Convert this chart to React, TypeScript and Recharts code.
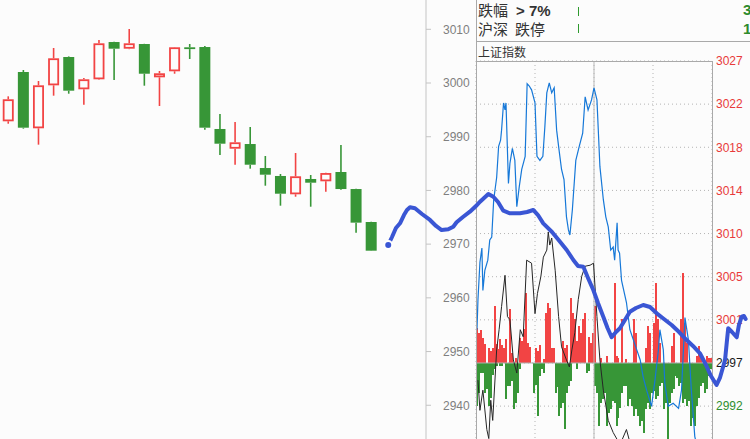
import React from 'react';
import {
  ComposedChart,
  LineChart,
  Bar,
  Line,
  XAxis,
  YAxis,
  CartesianGrid,
  ReferenceLine,
} from 'recharts';

// ---- daily K-line of 上证指数 ----
const sessionOpen = [2992.87, 3002.05, 2991.57, 2999.57, 3004.84, 2998.83, 3000.69, 3007.63, 3006.39, 3007.26, 3001.06, 3002.18, 3006.65, 3006.7, 2991.44, 2987.77, 2988.64, 2984.17, 2982.69, 2979.28, 2982.13, 2981.7, 2983.43, 2980.26, 2974.12];
const sessionClose = [2996.97, 2991.68, 2999.57, 3004.6, 2998.57, 3000.69, 3007.39, 3006.39, 3007.39, 3001.73, 3001.81, 3006.65, 3006.57, 2991.68, 2988.7, 2988.96, 2984.79, 2982.93, 2979.39, 2982.63, 2981.44, 2983.24, 2980.26, 2974.0, 2968.78];
const sessionHigh = [2997.52, 3002.42, 3000.37, 3006.52, 3004.95, 3000.93, 3008.0, 3007.7, 3010.06, 3007.3, 3002.24, 3006.7, 3007.26, 3006.89, 2994.23, 2992.74, 2991.81, 2986.41, 2983.06, 2986.97, 2982.87, 2983.3, 2988.46, 2980.3, 2974.15];
const sessionLow = [2992.42, 2991.5, 2988.52, 2997.64, 2998.01, 2995.96, 3000.6, 3000.56, 3006.3, 2999.5, 2995.72, 3001.73, 3004.47, 2991.31, 2986.6, 2984.79, 2984.05, 2980.88, 2977.16, 2978.83, 2976.97, 2979.77, 2980.13, 2972.13, 2968.7];
const indexTicks = [2940, 2950, 2960, 2970, 2980, 2990, 3000, 3010];

// hand-drawn projection continuing after the last session: [session slot, level]
const sketchPath: [number, number][] = [
  [25.12, 2969.84], [25.37, 2971.33], [25.63, 2973.0], [25.9, 2973.88], [26.16, 2975.42], [26.36, 2976.36],
  [26.56, 2976.86], [26.89, 2976.67], [27.35, 2975.61], [27.88, 2974.5], [28.28, 2973.38], [28.65, 2972.63],
  [29.09, 2972.76], [29.42, 2973.25], [29.64, 2974.07], [30.06, 2975.05], [30.52, 2976.04], [30.92, 2977.1],
  [31.19, 2977.9], [31.74, 2979.34], [32.07, 2978.83], [32.38, 2977.85], [32.73, 2976.23], [33.17, 2975.74],
  [33.83, 2975.74], [34.3, 2975.98], [34.71, 2976.36], [35.02, 2975.42], [35.37, 2973.88], [35.95, 2972.26],
  [36.48, 2970.46], [36.92, 2968.91], [37.36, 2967.05], [37.67, 2965.93], [38.02, 2965.8], [38.33, 2963.7],
  [38.68, 2961.46], [38.99, 2959.04], [39.34, 2956.49], [39.62, 2954.39], [39.89, 2952.66], [40.18, 2953.64],
  [40.44, 2954.33], [40.77, 2955.88], [41.1, 2957.42], [41.5, 2958.11], [41.98, 2958.67], [42.43, 2958.3],
  [42.87, 2957.12], [43.35, 2956.06], [43.86, 2954.95], [44.35, 2953.64], [44.85, 2952.15], [45.27, 2951.04],
  [45.73, 2949.68], [46.13, 2947.5], [46.46, 2945.45], [46.83, 2943.78], [47.05, 2945.08], [47.39, 2948.43],
  [47.52, 2952.15], [47.6, 2954.33], [47.85, 2953.64], [48.16, 2952.66], [48.31, 2954.95], [48.49, 2956.49],
  [48.64, 2956.62], [48.75, 2956.06],
];

// ---- intraday panel: minutes since the open ----
const PREV_CLOSE = 2997.2;
const intradayTicks = [2992.92, 2997.2, 3001.48, 3005.76, 3010.04, 3014.32, 3018.6, 3022.88, 3027.16];
const sessionMarks = [60, 120, 180];

const indexPath: [number, number][] = [
  [1, 3000.5], [2, 3003.5], [4, 3007.2], [6, 3008.6], [7, 3004.4], [9, 3006.4], [12, 3007.4], [14, 3009.4],
  [16, 3009.7], [18, 3013.4], [21, 3015.6], [23, 3018.7], [25, 3019.3], [26, 3020.3], [28, 3023.0], [29.5, 3022.3],
  [30.5, 3023.0], [33, 3015.0], [34.5, 3017.0], [37, 3018.5], [39.5, 3017.3], [41.5, 3012.7], [44, 3014.7],
  [46.5, 3016.4], [50, 3017.7], [52, 3024.9], [54, 3024.7], [56.5, 3024.3], [60, 3023.0], [62, 3017.7],
  [65, 3017.3], [68, 3017.7], [70, 3020.6], [72, 3024.0], [74.5, 3025.0], [77, 3024.0], [79.5, 3024.5],
  [82, 3020.3], [84.5, 3018.3], [87, 3016.4], [89.5, 3015.4], [92, 3011.7], [94, 3010.4], [95.5, 3009.9],
  [98, 3012.4], [101.5, 3017.3], [105, 3018.7], [108.5, 3020.0], [111, 3023.6], [114, 3022.3], [117.5, 3023.3],
  [120, 3024.5], [123, 3023.3], [126, 3016.7], [129.5, 3013.4], [132, 3011.7], [134.5, 3010.7], [137, 3008.4],
  [139.5, 3008.7], [141, 3007.4], [143.5, 3011.1], [144.5, 3008.4], [146, 3008.1], [148, 3005.4], [153, 3003.2],
  [156.5, 3000.5], [160, 2999.5], [163.5, 2998.5], [167, 2997.5], [170, 2995.8], [173.5, 2994.5], [178.5, 2992.9],
  [182, 2995.5], [185.5, 2998.5], [187, 3000.5], [190.5, 2998.5], [192, 2995.2], [195.5, 2992.9], [200.5, 2993.2],
  [206, 2992.7], [209, 2994.5], [212.5, 3001.7], [216, 2999.5], [219, 2994.5], [222.5, 2989.9], [228, 2987.6],
];

const avgPath: [number, number][] = [
  [2, 2995.5], [4, 2992.5], [7, 2994.5], [11, 2990.6], [13, 2989.7], [15, 2993.5], [17, 2991.5], [21, 2998.5],
  [23.5, 3000.5], [26, 3002.8], [29.5, 3005.9], [32, 3001.8], [34.5, 3001.5], [38, 2997.5], [41.5, 2996.2],
  [45, 3000.5], [48, 2999.8], [51.5, 3007.4], [56.5, 3007.1], [60, 3002.1], [62.5, 3004.1], [66, 3005.8],
  [68.5, 3007.7], [72, 3008.4], [73.5, 3010.2], [75, 3008.9], [77, 3009.6], [80.5, 3006.4], [84, 3001.8],
  [87, 2998.8], [92, 2997.5], [95, 2996.8], [97.5, 2998.5], [100.5, 3000.2], [104, 3003.5], [107.5, 3005.8],
  [111, 3006.8], [116, 3006.9], [119.5, 3007.1], [123, 3001.8], [126, 2997.5], [129.5, 2994.5], [134.5, 2991.5],
  [139.5, 2990.3], [146.5, 2989.1], [153, 2990.6], [158.5, 2988.6], [165, 2986.5],
];

// buying / selling strength per 2-minute slot
const upFlow = [
  8.1, 7.0, 7.6, 5.8, 4.4, 0, 3.5, 2.8, 3.5, 13.2,
  4.4, 3.2, 5.6, 4.2, 3.5, 5.6, 0, 12.5, 2.3, 0,
  1.2, 0, 5.8, 5.1, 7.9, 16.2, 4.6, 3.7, 0, 0,
  3.5, 2.8, 4.2, 0, 0.9, 11.6, 13.9, 12.7, 3.5, 3.5,
  0, 0, 0, 0, 5.1, 3.5, 4.2, 0, 15.1, 11.6,
  10.2, 5.1, 8.6, 7.0, 10.2, 11.6, 0, 6.0, 4.6, 7.0,
  13.2, 0, 0, 1.2, 0, 0, 1.6, 0, 0, 0,
  18.5, 1.6, 1.2, 0, 10.2, 0, 0.9, 0, 0, 0,
  10.2, 7.0, 0, 0, 0, 0, 3.5, 8.6, 7.0, 0,
  9.3, 18.5, 10.2, 4.6, 0, 0, 0, 0, 0, 3.9,
  7.0, 0, 0, 0, 10.2, 20.9, 9.3, 4.6, 0, 0,
  0, 0, 1.6, 3.9, 2.3, 0, 0, 1.6, 1.2, 1.2,
];
const downFlow = [
  10.0, 7.0, 2.3, 2.3, 7.0, 6.0, 10.0, 8.1, 2.8, 1.4,
  0.7, 0, 0.7, 0.7, 0, 8.3, 5.3, 5.3, 4.2, 10.7,
  9.3, 7.0, 1.4, 0, 0, 0, 0, 0, 0, 7.0,
  5.1, 12.3, 3.0, 1.4, 2.3, 0, 0, 0, 0, 0,
  7.0, 5.6, 12.3, 10.4, 9.3, 15.3, 7.0, 5.3, 4.2, 0,
  0, 1.4, 0, 0, 0, 0, 2.3, 1.9, 0, 0,
  5.3, 7.0, 14.6, 9.3, 8.3, 7.0, 14.6, 11.6, 10.7, 8.8,
  9.3, 14.6, 12.7, 10.4, 7.0, 5.3, 5.3, 10.0, 8.3, 10.0,
  12.3, 10.7, 12.3, 14.6, 13.4, 16.2, 10.7, 9.3, 10.7, 7.0,
  6.5, 8.3, 7.6, 5.3, 4.6, 10.7, 9.3, 17.6, 9.3, 7.0,
  6.0, 3.0, 3.5, 5.3, 4.6, 9.3, 8.3, 10.0, 8.8, 14.6,
  12.7, 14.6, 10.0, 8.1, 5.3, 4.6, 7.0, 6.0, 3.0, 1.4,
];

const RED = '#f24444';
const GREEN = '#379637';
const BG = '#fcfcfc';
const FRAME = '#a9a9a9';

const candles = sessionOpen.map((open, i) => ({
  slot: i,
  open,
  close: sessionClose[i],
  high: sessionHigh[i],
  low: sessionLow[i],
  range: [sessionLow[i], sessionHigh[i]],
}));
const sketch = sketchPath.map(([slot, level]) => ({ slot, level }));
const indexLine = indexPath.map(([minute, level]) => ({ minute, level }));
const avgLine = avgPath.map(([minute, level]) => ({ minute, level }));
const flowData = upFlow.map((up, i) => ({ minute: 2 * i + 1, up, down: -downFlow[i] }));

const Candle = (props: any) => {
  const { x, y, width, height, payload } = props;
  const { open, close, high, low } = payload;
  const top = Math.min(y, y + height);
  const h = Math.abs(height);
  const span = high - low || 1;
  const px = (v: number) => top + ((high - v) / span) * h;
  const up = close > open;
  const color = up ? RED : GREEN;
  const cx = x + width / 2;
  const bodyTop = px(Math.max(open, close));
  const bodyH = Math.max(px(Math.min(open, close)) - bodyTop, 1.8);
  return (
    <g>
      <line x1={cx} x2={cx} y1={top} y2={bodyTop} stroke={color} strokeWidth={1.6} />
      <line x1={cx} x2={cx} y1={bodyTop + bodyH} y2={top + h} stroke={color} strokeWidth={1.6} />
      {up ? (
        <rect x={x + 0.9} y={bodyTop + 0.9} width={width - 1.8} height={Math.max(bodyH - 1.8, 0.5)} fill={BG} stroke={color} strokeWidth={1.8} />
      ) : (
        <rect x={x} y={bodyTop} width={width} height={bodyH} fill={color} />
      )}
    </g>
  );
};

// pixel-snapped thin column so the strength bars stay crisp
const FlowBar = (props: any) => {
  const { x, y, width, height, fill } = props;
  if (!height) return null;
  const top = Math.min(y, y + height);
  const h = Math.abs(height);
  if (h < 0.3) return null;
  const left = Math.round(x + width / 2 - 1);
  return <rect x={left} y={Math.round(top)} width={2} height={Math.max(Math.round(h), 1)} fill={fill} />;
};

const IntradayTick = (props: any) => {
  const { x, y, payload } = props;
  const v = payload.value as number;
  const fill = v > PREV_CLOSE + 0.01 ? '#e83a3a' : v < PREV_CLOSE - 0.01 ? '#2f8f2f' : '#1a1a1a';
  return (
    <text x={x} y={y} dy="0.36em" fill={fill} fontSize={12} textAnchor="start">
      {Math.floor(v)}
    </text>
  );
};

const layer: React.CSSProperties = { position: 'absolute', left: 0, top: 0 };
const hLine = (left: number, top: number, width: number): React.CSSProperties => ({
  position: 'absolute', left, top, width, height: 1, background: FRAME,
});
const vLine = (left: number, top: number, height: number): React.CSSProperties => ({
  position: 'absolute', left, top, width: 1, height, background: FRAME,
});
const cjk = '"Noto Sans CJK SC", sans-serif';

export default function App() {
  return (
    <div
      style={{
        position: 'absolute', left: 0, top: 0, width: 750, height: 439, overflow: 'hidden',
        background: BG, fontFamily: '"Liberation Sans", Arial, sans-serif',
      }}
    >
      {/* daily candles with the index scale */}
      <div style={layer}>
        <ComposedChart width={476} height={439} data={candles} margin={{ top: 0, right: 0, bottom: 0, left: 0 }}>
          <XAxis type="number" dataKey="slot" domain={[-0.549, 27.62]} hide allowDataOverflow />
          <YAxis
            orientation="right" width={50} domain={[2933.72, 3015.455]} ticks={indexTicks} interval={0}
            allowDataOverflow tickSize={5} tickMargin={12} stroke="#c4c4c4"
            tick={{ fill: '#7f7f7f', fontSize: 12 }}
          />
          <Bar dataKey="range" barSize={11} shape={<Candle />} isAnimationActive={false} />
        </ComposedChart>
      </div>

      {/* intraday grid and strength bars */}
      <div style={layer}>
        <ComposedChart width={750} height={460} data={flowData} stackOffset="sign"
          margin={{ top: 61, right: 38, bottom: 10.74, left: 476 }}>
          <XAxis type="number" dataKey="minute" domain={[0, 240]} ticks={sessionMarks} hide allowDataOverflow />
          <YAxis yAxisId="p" domain={[2988.64, 3027.16]} ticks={intradayTicks} hide allowDataOverflow />
          <YAxis yAxisId="f" domain={[-20, 70]} hide allowDataOverflow />
          <CartesianGrid yAxisId="p" stroke="#b4b4b4" strokeDasharray="1 3" />
          <Bar yAxisId="f" dataKey="up" stackId="flow" fill={RED} barSize={2} shape={<FlowBar />} isAnimationActive={false} />
          <Bar yAxisId="f" dataKey="down" stackId="flow" fill={GREEN} barSize={2} shape={<FlowBar />} isAnimationActive={false} />
          <ReferenceLine yAxisId="p" y={PREV_CLOSE} stroke="#b0b0b0" />
          <ReferenceLine yAxisId="p" x={120} stroke="#b8b8b8" />
        </ComposedChart>
      </div>

      {/* intraday index and average lines */}
      <div style={layer}>
        <LineChart width={750} height={460} margin={{ top: 61, right: 0, bottom: 10.74, left: 476 }}>
          <XAxis type="number" dataKey="minute" domain={[0, 240]} hide allowDataOverflow />
          <YAxis
            orientation="right" width={38} domain={[2988.64, 3027.16]} ticks={intradayTicks} interval={0}
            allowDataOverflow tickLine={false} axisLine={false} tickSize={0} tickMargin={4} tick={<IntradayTick />}
          />
          <Line data={avgLine} dataKey="level" type="linear" stroke="#262626" strokeWidth={1} dot={false} isAnimationActive={false} />
          <Line data={indexLine} dataKey="level" type="linear" stroke="#1678d8" strokeWidth={1.2} dot={false} isAnimationActive={false} />
        </LineChart>
      </div>

      {/* panel frame */}
      <div style={vLine(476, 0, 439)} />
      <div style={hLine(476, 41, 274)} />
      <div style={hLine(476, 61, 236)} />
      <div style={vLine(712, 61, 378)} />

      {/* header rows */}
      <div style={{ position: 'absolute', left: 478, top: 1, fontSize: 15, lineHeight: '17px', color: '#333', whiteSpace: 'nowrap', fontFamily: cjk }}>
        跌幅<b style={{ marginLeft: 8, fontFamily: '"Liberation Sans", Arial, sans-serif' }}>&gt; 7%</b>
      </div>
      <div style={{ position: 'absolute', left: 478, top: 20, fontSize: 15, lineHeight: '17px', color: '#333', whiteSpace: 'nowrap', fontFamily: cjk }}>
        沪深<span style={{ marginLeft: 7 }}>跌停</span>
      </div>
      <div style={{ position: 'absolute', left: 578, top: 7, width: 1, height: 9, background: '#2e9a2e' }} />
      <div style={{ position: 'absolute', left: 578, top: 24, width: 1, height: 9, background: '#2e9a2e' }} />
      <div style={{ position: 'absolute', left: 743, top: 1, fontSize: 15, lineHeight: '17px', color: '#2e8b2e', fontWeight: 'bold' }}>3</div>
      <div style={{ position: 'absolute', left: 743, top: 20, fontSize: 15, lineHeight: '17px', color: '#2e8b2e', fontWeight: 'bold' }}>1</div>
      <div style={{ position: 'absolute', left: 478, top: 45, fontSize: 12, lineHeight: '14px', color: '#333', whiteSpace: 'nowrap', fontFamily: cjk }}>
        上证指数
      </div>

      {/* projection sketch drawn over both panels */}
      <div style={layer}>
        <LineChart width={750} height={439} data={sketch} margin={{ top: 0, right: 0, bottom: 0, left: 0 }}>
          <XAxis type="number" dataKey="slot" domain={[-0.549, 49.04]} hide allowDataOverflow />
          <YAxis domain={[2933.72, 3015.455]} hide allowDataOverflow />
          <Line dataKey="level" type="linear" stroke="#3a56d4" strokeWidth={4} dot={false}
            strokeLinejoin="round" strokeLinecap="round" isAnimationActive={false} />
        </LineChart>
      </div>
    </div>
  );
}
